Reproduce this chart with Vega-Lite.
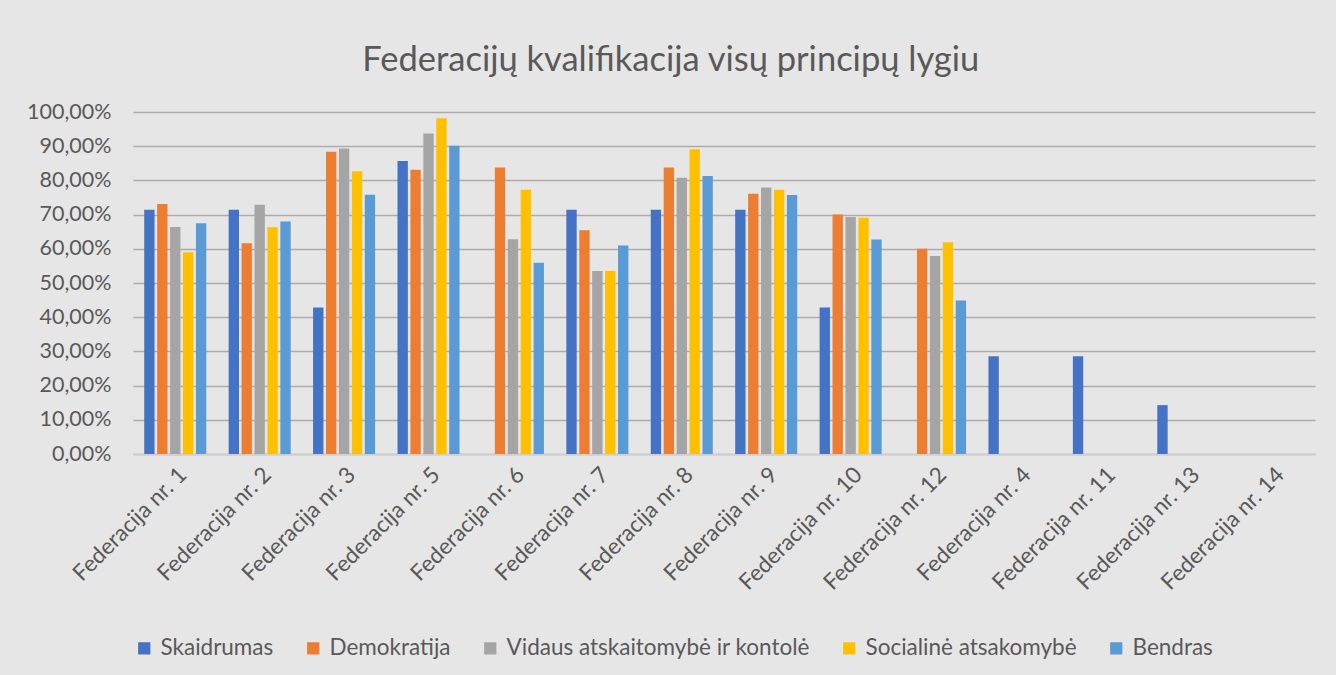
{
  "$schema": "https://vega.github.io/schema/vega-lite/v6.json",
  "width": 1182,
  "height": 342,
  "autosize": "none",
  "padding": {"left": 133, "top": 112, "right": 21, "bottom": 221},
  "background": "#E7E6E6",
  "title": {
    "text": "Federacijų kvalifikacija visų principų lygiu",
    "fontSize": 34.5,
    "font": "Lato",
    "fontWeight": "normal",
    "color": "#595959",
    "anchor": "middle",
    "frame": "bounds",
    "offset": 23
  },
  "config": {
    "locale": {"number": {"decimal": ",", "thousands": " ", "grouping": [3], "currency": ["", " €"]}},
    "view": {"stroke": null},
    "font": "Lato"
  },
  "data": {
    "values": [
      {"fed": "Federacija nr. 1", "crit": "Skaidrumas", "value": 0.7143},
      {"fed": "Federacija nr. 1", "crit": "Demokratija", "value": 0.731},
      {"fed": "Federacija nr. 1", "crit": "Vidaus atskaitomybė ir kontolė", "value": 0.664},
      {"fed": "Federacija nr. 1", "crit": "Socialinė atsakomybė", "value": 0.59},
      {"fed": "Federacija nr. 1", "crit": "Bendras", "value": 0.675},
      {"fed": "Federacija nr. 2", "crit": "Skaidrumas", "value": 0.7143},
      {"fed": "Federacija nr. 2", "crit": "Demokratija", "value": 0.616},
      {"fed": "Federacija nr. 2", "crit": "Vidaus atskaitomybė ir kontolė", "value": 0.729},
      {"fed": "Federacija nr. 2", "crit": "Socialinė atsakomybė", "value": 0.663},
      {"fed": "Federacija nr. 2", "crit": "Bendras", "value": 0.68},
      {"fed": "Federacija nr. 3", "crit": "Skaidrumas", "value": 0.4286},
      {"fed": "Federacija nr. 3", "crit": "Demokratija", "value": 0.884},
      {"fed": "Federacija nr. 3", "crit": "Vidaus atskaitomybė ir kontolė", "value": 0.893},
      {"fed": "Federacija nr. 3", "crit": "Socialinė atsakomybė", "value": 0.827},
      {"fed": "Federacija nr. 3", "crit": "Bendras", "value": 0.758},
      {"fed": "Federacija nr. 5", "crit": "Skaidrumas", "value": 0.857},
      {"fed": "Federacija nr. 5", "crit": "Demokratija", "value": 0.831},
      {"fed": "Federacija nr. 5", "crit": "Vidaus atskaitomybė ir kontolė", "value": 0.937},
      {"fed": "Federacija nr. 5", "crit": "Socialinė atsakomybė", "value": 0.982},
      {"fed": "Federacija nr. 5", "crit": "Bendras", "value": 0.901},
      {"fed": "Federacija nr. 6", "crit": "Skaidrumas", "value": 0},
      {"fed": "Federacija nr. 6", "crit": "Demokratija", "value": 0.838},
      {"fed": "Federacija nr. 6", "crit": "Vidaus atskaitomybė ir kontolė", "value": 0.628},
      {"fed": "Federacija nr. 6", "crit": "Socialinė atsakomybė", "value": 0.773},
      {"fed": "Federacija nr. 6", "crit": "Bendras", "value": 0.559},
      {"fed": "Federacija nr. 7", "crit": "Skaidrumas", "value": 0.7143},
      {"fed": "Federacija nr. 7", "crit": "Demokratija", "value": 0.654},
      {"fed": "Federacija nr. 7", "crit": "Vidaus atskaitomybė ir kontolė", "value": 0.535},
      {"fed": "Federacija nr. 7", "crit": "Socialinė atsakomybė", "value": 0.535},
      {"fed": "Federacija nr. 7", "crit": "Bendras", "value": 0.61},
      {"fed": "Federacija nr. 8", "crit": "Skaidrumas", "value": 0.7143},
      {"fed": "Federacija nr. 8", "crit": "Demokratija", "value": 0.838},
      {"fed": "Federacija nr. 8", "crit": "Vidaus atskaitomybė ir kontolė", "value": 0.808},
      {"fed": "Federacija nr. 8", "crit": "Socialinė atsakomybė", "value": 0.891},
      {"fed": "Federacija nr. 8", "crit": "Bendras", "value": 0.813},
      {"fed": "Federacija nr. 9", "crit": "Skaidrumas", "value": 0.7143},
      {"fed": "Federacija nr. 9", "crit": "Demokratija", "value": 0.761},
      {"fed": "Federacija nr. 9", "crit": "Vidaus atskaitomybė ir kontolė", "value": 0.779},
      {"fed": "Federacija nr. 9", "crit": "Socialinė atsakomybė", "value": 0.773},
      {"fed": "Federacija nr. 9", "crit": "Bendras", "value": 0.757},
      {"fed": "Federacija nr. 10", "crit": "Skaidrumas", "value": 0.4286},
      {"fed": "Federacija nr. 10", "crit": "Demokratija", "value": 0.7},
      {"fed": "Federacija nr. 10", "crit": "Vidaus atskaitomybė ir kontolė", "value": 0.693},
      {"fed": "Federacija nr. 10", "crit": "Socialinė atsakomybė", "value": 0.691},
      {"fed": "Federacija nr. 10", "crit": "Bendras", "value": 0.627},
      {"fed": "Federacija nr. 12", "crit": "Skaidrumas", "value": 0},
      {"fed": "Federacija nr. 12", "crit": "Demokratija", "value": 0.6},
      {"fed": "Federacija nr. 12", "crit": "Vidaus atskaitomybė ir kontolė", "value": 0.579},
      {"fed": "Federacija nr. 12", "crit": "Socialinė atsakomybė", "value": 0.619},
      {"fed": "Federacija nr. 12", "crit": "Bendras", "value": 0.449},
      {"fed": "Federacija nr. 4", "crit": "Skaidrumas", "value": 0.2857},
      {"fed": "Federacija nr. 4", "crit": "Demokratija", "value": 0},
      {"fed": "Federacija nr. 4", "crit": "Vidaus atskaitomybė ir kontolė", "value": 0},
      {"fed": "Federacija nr. 4", "crit": "Socialinė atsakomybė", "value": 0},
      {"fed": "Federacija nr. 4", "crit": "Bendras", "value": 0},
      {"fed": "Federacija nr. 11", "crit": "Skaidrumas", "value": 0.2857},
      {"fed": "Federacija nr. 11", "crit": "Demokratija", "value": 0},
      {"fed": "Federacija nr. 11", "crit": "Vidaus atskaitomybė ir kontolė", "value": 0},
      {"fed": "Federacija nr. 11", "crit": "Socialinė atsakomybė", "value": 0},
      {"fed": "Federacija nr. 11", "crit": "Bendras", "value": 0},
      {"fed": "Federacija nr. 13", "crit": "Skaidrumas", "value": 0.1429},
      {"fed": "Federacija nr. 13", "crit": "Demokratija", "value": 0},
      {"fed": "Federacija nr. 13", "crit": "Vidaus atskaitomybė ir kontolė", "value": 0},
      {"fed": "Federacija nr. 13", "crit": "Socialinė atsakomybė", "value": 0},
      {"fed": "Federacija nr. 13", "crit": "Bendras", "value": 0},
      {"fed": "Federacija nr. 14", "crit": "Skaidrumas", "value": 0},
      {"fed": "Federacija nr. 14", "crit": "Demokratija", "value": 0},
      {"fed": "Federacija nr. 14", "crit": "Vidaus atskaitomybė ir kontolė", "value": 0},
      {"fed": "Federacija nr. 14", "crit": "Socialinė atsakomybė", "value": 0},
      {"fed": "Federacija nr. 14", "crit": "Bendras", "value": 0}
    ]
  },
  "mark": {"type": "bar"},
  "encoding": {
    "x": {
      "field": "fed",
      "type": "nominal",
      "sort": ["Federacija nr. 1", "Federacija nr. 2", "Federacija nr. 3", "Federacija nr. 5", "Federacija nr. 6", "Federacija nr. 7", "Federacija nr. 8", "Federacija nr. 9", "Federacija nr. 10", "Federacija nr. 12", "Federacija nr. 4", "Federacija nr. 11", "Federacija nr. 13", "Federacija nr. 14"],
      "scale": {"paddingInner": 0.265, "paddingOuter": 0.133},
      "axis": {
        "title": null,
        "labelAngle": -45,
        "labelFontSize": 22.5,
        "labelColor": "#595959",
        "labelPadding": 9,
        "labelLimit": 400,
        "ticks": false,
        "domainColor": "#D0CECE",
        "domainWidth": 1.5
      }
    },
    "xOffset": {
      "field": "crit",
      "type": "nominal",
      "sort": ["Skaidrumas", "Demokratija", "Vidaus atskaitomybė ir kontolė", "Socialinė atsakomybė", "Bendras"],
      "scale": {"paddingInner": 0.2, "paddingOuter": 0}
    },
    "y": {
      "field": "value",
      "type": "quantitative",
      "scale": {"domain": [0, 1], "nice": false},
      "axis": {
        "title": null,
        "format": ".2%",
        "values": [0, 0.1, 0.2, 0.3, 0.4, 0.5, 0.6, 0.7, 0.8, 0.9, 1],
        "labelFontSize": 21.5,
        "labelColor": "#595959",
        "labelPadding": 22,
        "ticks": false,
        "domain": false,
        "gridColor": "#AEAAAA",
        "gridWidth": 1.5
      }
    },
    "color": {
      "field": "crit",
      "type": "nominal",
      "sort": ["Skaidrumas", "Demokratija", "Vidaus atskaitomybė ir kontolė", "Socialinė atsakomybė", "Bendras"],
      "scale": {
        "domain": ["Skaidrumas", "Demokratija", "Vidaus atskaitomybė ir kontolė", "Socialinė atsakomybė", "Bendras"],
        "range": ["#4472C4", "#ED7D31", "#A5A5A5", "#FFC000", "#5B9BD5"]
      },
      "legend": {
        "title": null,
        "orient": "bottom",
        "direction": "horizontal",
        "symbolType": "square",
        "symbolSize": 150,
        "symbolStrokeWidth": 0,
        "labelFontSize": 22.5,
        "labelLimit": 600,
        "labelColor": "#595959",
        "columnPadding": 28,
        "labelOffset": 5,
        "offset": 42
      }
    }
  }
}
